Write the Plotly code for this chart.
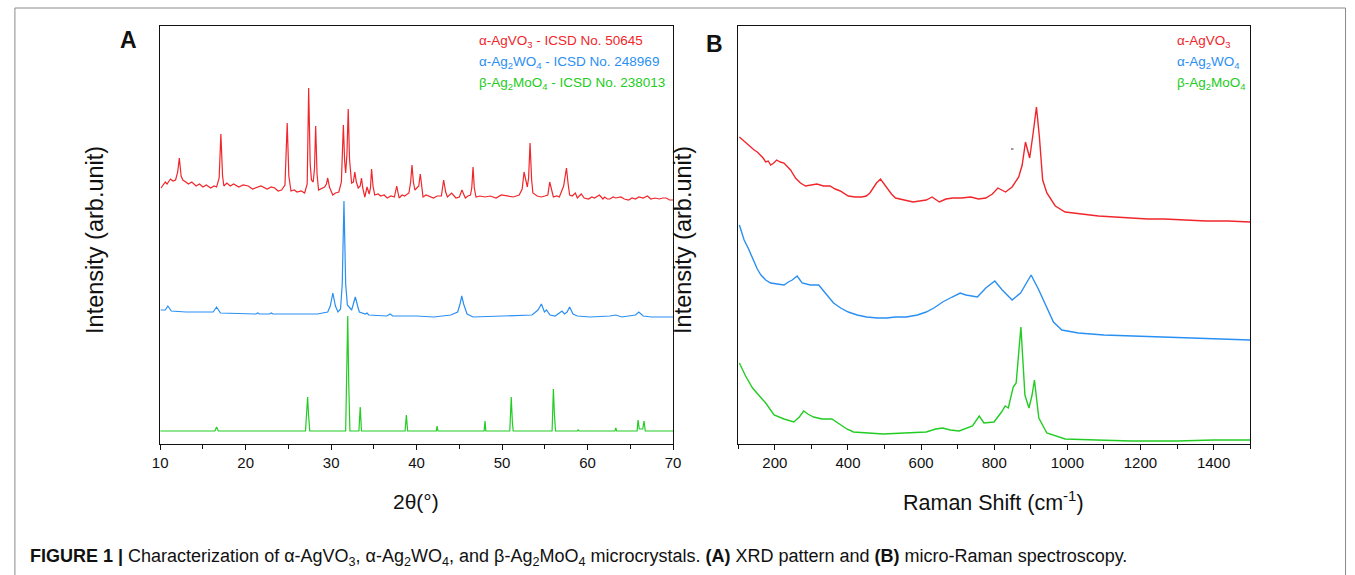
import plotly.graph_objects as go

# ---------------- Panel A : XRD (2theta, intensity a.u.) ----------------
xrd_vo3_2theta = [10.1, 10.4, 10.6, 10.8, 11.0, 11.2, 11.5, 11.8, 12.05, 12.24, 12.45, 12.65, 13.0, 13.3, 13.7, 14.2, 14.6,
                  15.0, 15.4, 15.9, 16.3, 16.6, 16.9, 17.1, 17.3, 17.45, 17.8, 18.2, 18.6, 19.2, 19.7, 20.3, 20.8, 21.2,
                  21.8, 22.5, 23.0, 23.4, 23.8, 24.2, 24.6, 24.86, 25.05, 25.17, 25.3, 25.7, 26.0, 26.5, 26.9, 27.2,
                  27.37, 27.55, 27.7, 27.9, 28.05, 28.19, 28.35, 28.53, 28.9, 29.23, 29.45, 29.6, 29.8, 30.19, 30.5,
                  30.9, 31.2, 31.43, 31.58, 31.7, 31.85, 32.0, 32.15, 32.39, 32.6, 32.77, 32.95, 33.17, 33.4, 33.55,
                  33.72, 33.94, 34.2, 34.45, 34.6, 34.73, 34.9, 35.1, 35.5, 35.8, 36.2, 36.56, 37.0, 37.4, 37.67,
                  37.95, 38.3, 38.6, 39.1, 39.3, 39.46, 39.62, 39.8, 40.25, 40.43, 40.6, 40.75, 41.1, 41.4, 41.97,
                  42.4, 42.9, 43.16, 43.4, 43.6, 44.1, 44.6, 45.0, 45.3, 45.7, 46.0, 46.3, 46.45, 46.6, 46.75, 46.95,
                  47.4, 48.0, 48.6, 49.3, 49.9, 50.6, 51.3, 52.0, 52.35, 52.57, 52.8, 52.95, 53.1, 53.27, 53.45, 53.6,
                  54.1, 54.6, 55.0, 55.35, 55.57, 55.8, 56.0, 56.4, 56.7, 57.2, 57.53, 57.7, 57.9, 58.2, 58.57, 58.8,
                  59.26, 59.6, 60.1, 60.5, 60.8, 61.39, 61.8, 62.0, 62.3, 62.6, 63.0, 63.3, 63.9, 64.3, 64.8, 65.2,
                  65.6, 66.0, 66.5, 67.0, 67.4, 67.9, 68.4, 68.8, 69.2, 69.6, 70.0]
xrd_vo3_int = [256, 259, 262, 260, 262, 265, 263, 264, 272, 286, 268, 264, 262, 260, 262, 258, 260,
               257, 259, 256, 258, 257, 266, 310, 268, 258, 261, 258, 260, 257, 259, 258, 255, 256,
               258, 255, 257, 256, 253, 254, 259, 321, 268, 261, 253, 254, 252, 253, 251, 260,
               356, 280, 264, 262, 275, 318, 270, 254, 256, 257, 260, 266, 257, 249, 251,
               252, 262, 319, 283, 271, 290, 335, 285, 261, 262, 272, 262, 256, 258, 266,
               255, 247, 257, 250, 256, 275, 258, 249, 250, 248, 249, 246, 248, 247, 258,
               246, 249, 248, 251, 262, 279, 262, 254, 258, 270, 255, 247, 249, 248, 246,
               248, 248, 264, 252, 247, 251, 246, 247, 254, 246, 248, 249, 256, 277, 256, 247,
               248, 247, 248, 246, 249, 248, 247, 249, 255, 272, 262, 257, 266, 301, 265, 251,
               248, 247, 248, 249, 262, 252, 247, 248, 247, 258, 276, 262, 249, 248, 251, 246,
               250, 246, 245, 247, 246, 249, 245, 247, 245, 245, 247, 246, 247, 245, 244, 246,
               245, 247, 246, 248, 245, 246, 245, 246, 246, 244, 244]

xrd_wo4_2theta = [10.05, 10.6, 10.9, 11.3, 13.0, 16.2, 16.6, 17.05, 21.2, 21.4, 21.6, 22.8, 23.0, 23.2, 28.4, 29.6, 29.9,
                  30.2, 30.5, 30.8, 31.1, 31.3, 31.5, 31.7, 31.9, 32.4, 32.6, 32.83, 33.1, 33.3, 34.0, 34.2, 34.4, 36.5,
                  36.9, 37.2, 40.0, 42.0, 44.0, 44.8, 45.08, 45.28, 45.5, 45.9, 46.6, 52.0, 53.5, 54.2, 54.6, 54.95,
                  55.2, 55.6, 56.2, 56.7, 57.0, 57.3, 57.6, 57.9, 58.3, 58.8, 60.3, 62.6, 63.3, 64.0, 65.6, 66.0, 66.5,
                  67.5, 70.0]
xrd_wo4_int = [134, 134, 138, 133, 132, 132, 137, 131, 130, 131, 130, 130, 131, 130, 130, 132, 138,
               151, 138, 132, 135, 160, 243, 160, 139, 134, 140, 147, 138, 132, 130, 131, 129, 128,
               130, 128, 128, 127, 129, 132, 140, 148, 140, 130, 127, 128, 129, 134, 140, 132,
               134, 129, 128, 131, 133, 130, 132, 137, 130, 128, 127, 128, 129, 127, 129, 132, 128,
               127, 127]

xrd_moo4_2theta = [10.0, 16.4, 16.6, 16.8, 27.0, 27.15, 27.25, 27.35, 27.5, 31.7, 31.82, 31.94, 32.06, 32.2, 33.25,
                   33.4, 33.55, 38.65, 38.8, 38.95, 42.3, 42.4, 42.5, 47.9, 48.0, 48.1, 50.9, 51.07, 51.2, 51.3, 55.85,
                   56.0, 56.12, 56.25, 58.8, 58.9, 59.0, 63.2, 63.3, 63.4, 65.8, 65.9, 66.05, 66.45, 66.6, 66.75, 70.0]
xrd_moo4_int = [13, 13, 17, 13, 13, 30, 47, 30, 13, 13, 60, 128, 60, 13, 13,
                37, 13, 13, 29, 13, 13, 18, 13, 13, 23, 13, 13, 47, 22, 13, 13,
                55, 30, 13, 13, 14, 13, 13, 16, 13, 13, 24, 15, 15, 23, 13, 13]

# ---------------- Panel B : Raman (shift cm-1, intensity a.u.) ----------------
raman_vo3_shift = [103, 115, 125, 135, 143.5, 152, 160, 168, 175, 182, 188.6, 197, 205, 215, 225, 235, 243, 256.5, 270,
                   284, 300, 315, 333, 351, 365, 379, 401, 420, 437.6, 450, 460, 478, 489, 501, 519, 530, 541.6, 560,
                   578, 596, 614, 630, 650, 668, 686.5, 710, 736, 757, 777, 795, 810, 831, 849, 867, 876.5, 885.5, 897,
                   906.5, 915.5, 923.6, 932.5, 944, 967, 994, 1040, 1085, 1130, 1175, 1220, 1265, 1320, 1380, 1440, 1500]
raman_vo3_int = [307, 303, 300, 296, 294, 292, 289, 286, 282, 283, 279, 281, 284, 282, 281, 277, 274, 266, 261,
                 258, 259, 260, 258, 258, 255, 253, 248, 247, 247, 248, 251, 261, 265, 259, 250, 246, 245, 243,
                 242, 243, 244, 247, 242, 245, 246, 246, 247, 245, 246, 250, 256, 252, 257, 267, 279, 302, 286,
                 311, 337, 307, 264, 251, 238, 232, 230, 228, 227, 226, 225, 225, 224, 223, 223, 222]

raman_wo4_shift = [103, 116, 127, 135, 143, 152, 162, 175, 188.6, 205, 225, 237, 247.6, 261, 274.6, 297, 320, 338,
                   360.6, 380, 401, 425, 451, 480, 505.4, 530, 559.5, 590, 614, 635, 659, 685, 707, 722.5, 754, 777,
                   801.5, 822, 849, 872, 901, 922, 944, 962, 985, 1030, 1100, 1175, 1260, 1356, 1430, 1500]
raman_wo4_int = [219, 204, 196, 189, 181, 175, 169, 164, 161, 160, 159, 162, 164, 168, 161, 159, 159, 151,
                 141, 136, 132, 129, 127, 126, 126, 127, 127, 129, 132, 136, 142, 147, 151, 149, 147, 156,
                 163, 154, 144, 151, 169, 154, 136, 122, 114, 111, 109, 108, 107, 106, 105, 104]

raman_moo4_shift = [103, 120, 139, 157, 175, 198, 225, 252, 267, 279, 290, 306, 329, 356, 379, 397, 415, 455, 496.5,
                    555, 614, 640, 659, 680, 704, 740.6, 759, 772, 799.5, 820, 830, 838.5, 852, 860, 866, 873, 879,
                    884, 895, 903, 910, 916, 922, 944, 994, 1080, 1175, 1300, 1400, 1500]
raman_moo4_int = [81, 68, 56, 48, 41, 29, 25, 22, 27, 33, 30, 27, 25, 25, 19, 15, 12, 11, 10,
                  11, 12, 15, 16, 14, 13, 18, 28, 21, 22, 32, 38, 36, 57, 61, 85, 117, 80,
                  49, 36, 48, 64, 45, 26, 11, 5, 4, 3, 3, 4, 4]

RED, BLUE, GREEN = "#f0262b", "#2a8ff3", "#22cc22"
FONT = "Arial, Liberation Sans, sans-serif"
W, H = 1355, 575

fig = go.Figure()
lw = 1.2
lwr = 1.4
fig.add_trace(go.Scatter(x=xrd_vo3_2theta, y=xrd_vo3_int, mode="lines", line=dict(color=RED, width=lw), xaxis="x", yaxis="y"))
fig.add_trace(go.Scatter(x=xrd_wo4_2theta, y=xrd_wo4_int, mode="lines", line=dict(color=BLUE, width=lw), xaxis="x", yaxis="y"))
fig.add_trace(go.Scatter(x=xrd_moo4_2theta, y=xrd_moo4_int, mode="lines", line=dict(color=GREEN, width=lw), xaxis="x", yaxis="y"))
fig.add_trace(go.Scatter(x=raman_vo3_shift, y=raman_vo3_int, mode="lines", line=dict(color=RED, width=lwr), xaxis="x2", yaxis="y2"))
fig.add_trace(go.Scatter(x=raman_wo4_shift, y=raman_wo4_int, mode="lines", line=dict(color=BLUE, width=lwr), xaxis="x2", yaxis="y2"))
fig.add_trace(go.Scatter(x=raman_moo4_shift, y=raman_moo4_int, mode="lines", line=dict(color=GREEN, width=lwr), xaxis="x2", yaxis="y2"))

def px(x):
    return x / W

def py(y):
    return 1 - y / H

ydom = [py(444), py(26)]
axcommon = dict(showline=True, mirror=True, linecolor="#111", linewidth=1.3, showgrid=False, zeroline=False,
                ticks="outside", ticklen=5, tickwidth=1.2, tickcolor="#111",
                tickfont=dict(family=FONT, size=15, color="#111"))
yaxcommon = dict(showline=True, mirror=True, linecolor="#111", linewidth=1.3, showgrid=False, zeroline=False,
                 showticklabels=False, ticks="", range=[0, 418], domain=ydom)

fig.update_layout(
    width=W, height=H, margin=dict(l=0, r=0, t=0, b=0),
    paper_bgcolor="white", plot_bgcolor="white", showlegend=False,
    xaxis=dict(domain=[px(154), px(673)], range=[10, 70], tickvals=[10, 20, 30, 40, 50, 60, 70],
               minor=dict(dtick=5, ticks="outside", ticklen=4, tickcolor="#111"), anchor="y", **axcommon),
    yaxis=dict(anchor="x", **yaxcommon),
    xaxis2=dict(domain=[px(739), px(1257)], range=[100, 1500], tickvals=[200, 400, 600, 800, 1000, 1200, 1400],
                minor=dict(dtick=100, tick0=100, ticks="outside", ticklen=4, tickcolor="#111"), anchor="y2", **axcommon),
    yaxis2=dict(anchor="x2", **yaxcommon),
)

ann = []
def text(x, y, t, size, color="#111", xanchor="center", angle=0, bold=False):
    ann.append(dict(x=px(x), y=py(y), xref="paper", yref="paper", text=(f"<b>{t}</b>" if bold else t),
                    showarrow=False, xanchor=xanchor, yanchor="middle", textangle=angle,
                    font=dict(family=FONT, size=size, color=color)))

text(122, 40, "A", 23, bold=True)
text(715, 44, "B", 23, bold=True)
text(88, 240, "Intensity (arb.unit)", 23.5, angle=-90)
text(683, 240, "Intensity (arb.unit)", 23.5, angle=-90)
text(413, 501, "2θ(°)", 21)
text(997, 501, "Raman Shift (cm<sup>-1</sup>)", 21.5)

text(475, 41, "α-AgVO<sub>3</sub> - ICSD No. 50645", 13.5, color=RED, xanchor="left")
text(475, 62, "α-Ag<sub>2</sub>WO<sub>4</sub> - ICSD No. 248969", 13.5, color=BLUE, xanchor="left")
text(475, 83, "β-Ag<sub>2</sub>MoO<sub>4</sub> - ICSD No. 238013", 13.5, color=GREEN, xanchor="left")
text(1181, 41, "α-AgVO<sub>3</sub>", 13.5, color=RED, xanchor="left")
text(1181, 62, "α-Ag<sub>2</sub>WO<sub>4</sub>", 13.5, color=BLUE, xanchor="left")
text(1181, 83, "β-Ag<sub>2</sub>MoO<sub>4</sub>", 13.5, color=GREEN, xanchor="left")

text(20, 557, "<b>FIGURE 1 |</b> Characterization of α-AgVO<sub>3</sub>, α-Ag<sub>2</sub>WO<sub>4</sub>, and β-Ag<sub>2</sub>MoO<sub>4</sub> microcrystals. "
     "<b>(A)</b> XRD pattern and <b>(B)</b> micro-Raman spectroscopy.", 18, xanchor="left")

fig.update_layout(annotations=ann)
fig.add_shape(type="rect", xref="paper", yref="paper", x0=px(7), x1=px(1353.5), y0=-0.05, y1=py(8),
              line=dict(color="#8a8a8a", width=1), fillcolor="rgba(0,0,0,0)", layer="below")
# small grey speck visible in the reference Raman panel
fig.add_shape(type="line", xref="paper", yref="paper", x0=px(1015), x1=px(1017.5), y0=py(149), y1=py(149),
              line=dict(color="#777", width=1.5))

fig.write_html("out.html", config={"displayModeBar": False},
               post_script="document.body.style.margin='0';document.body.style.overflow='hidden';")
